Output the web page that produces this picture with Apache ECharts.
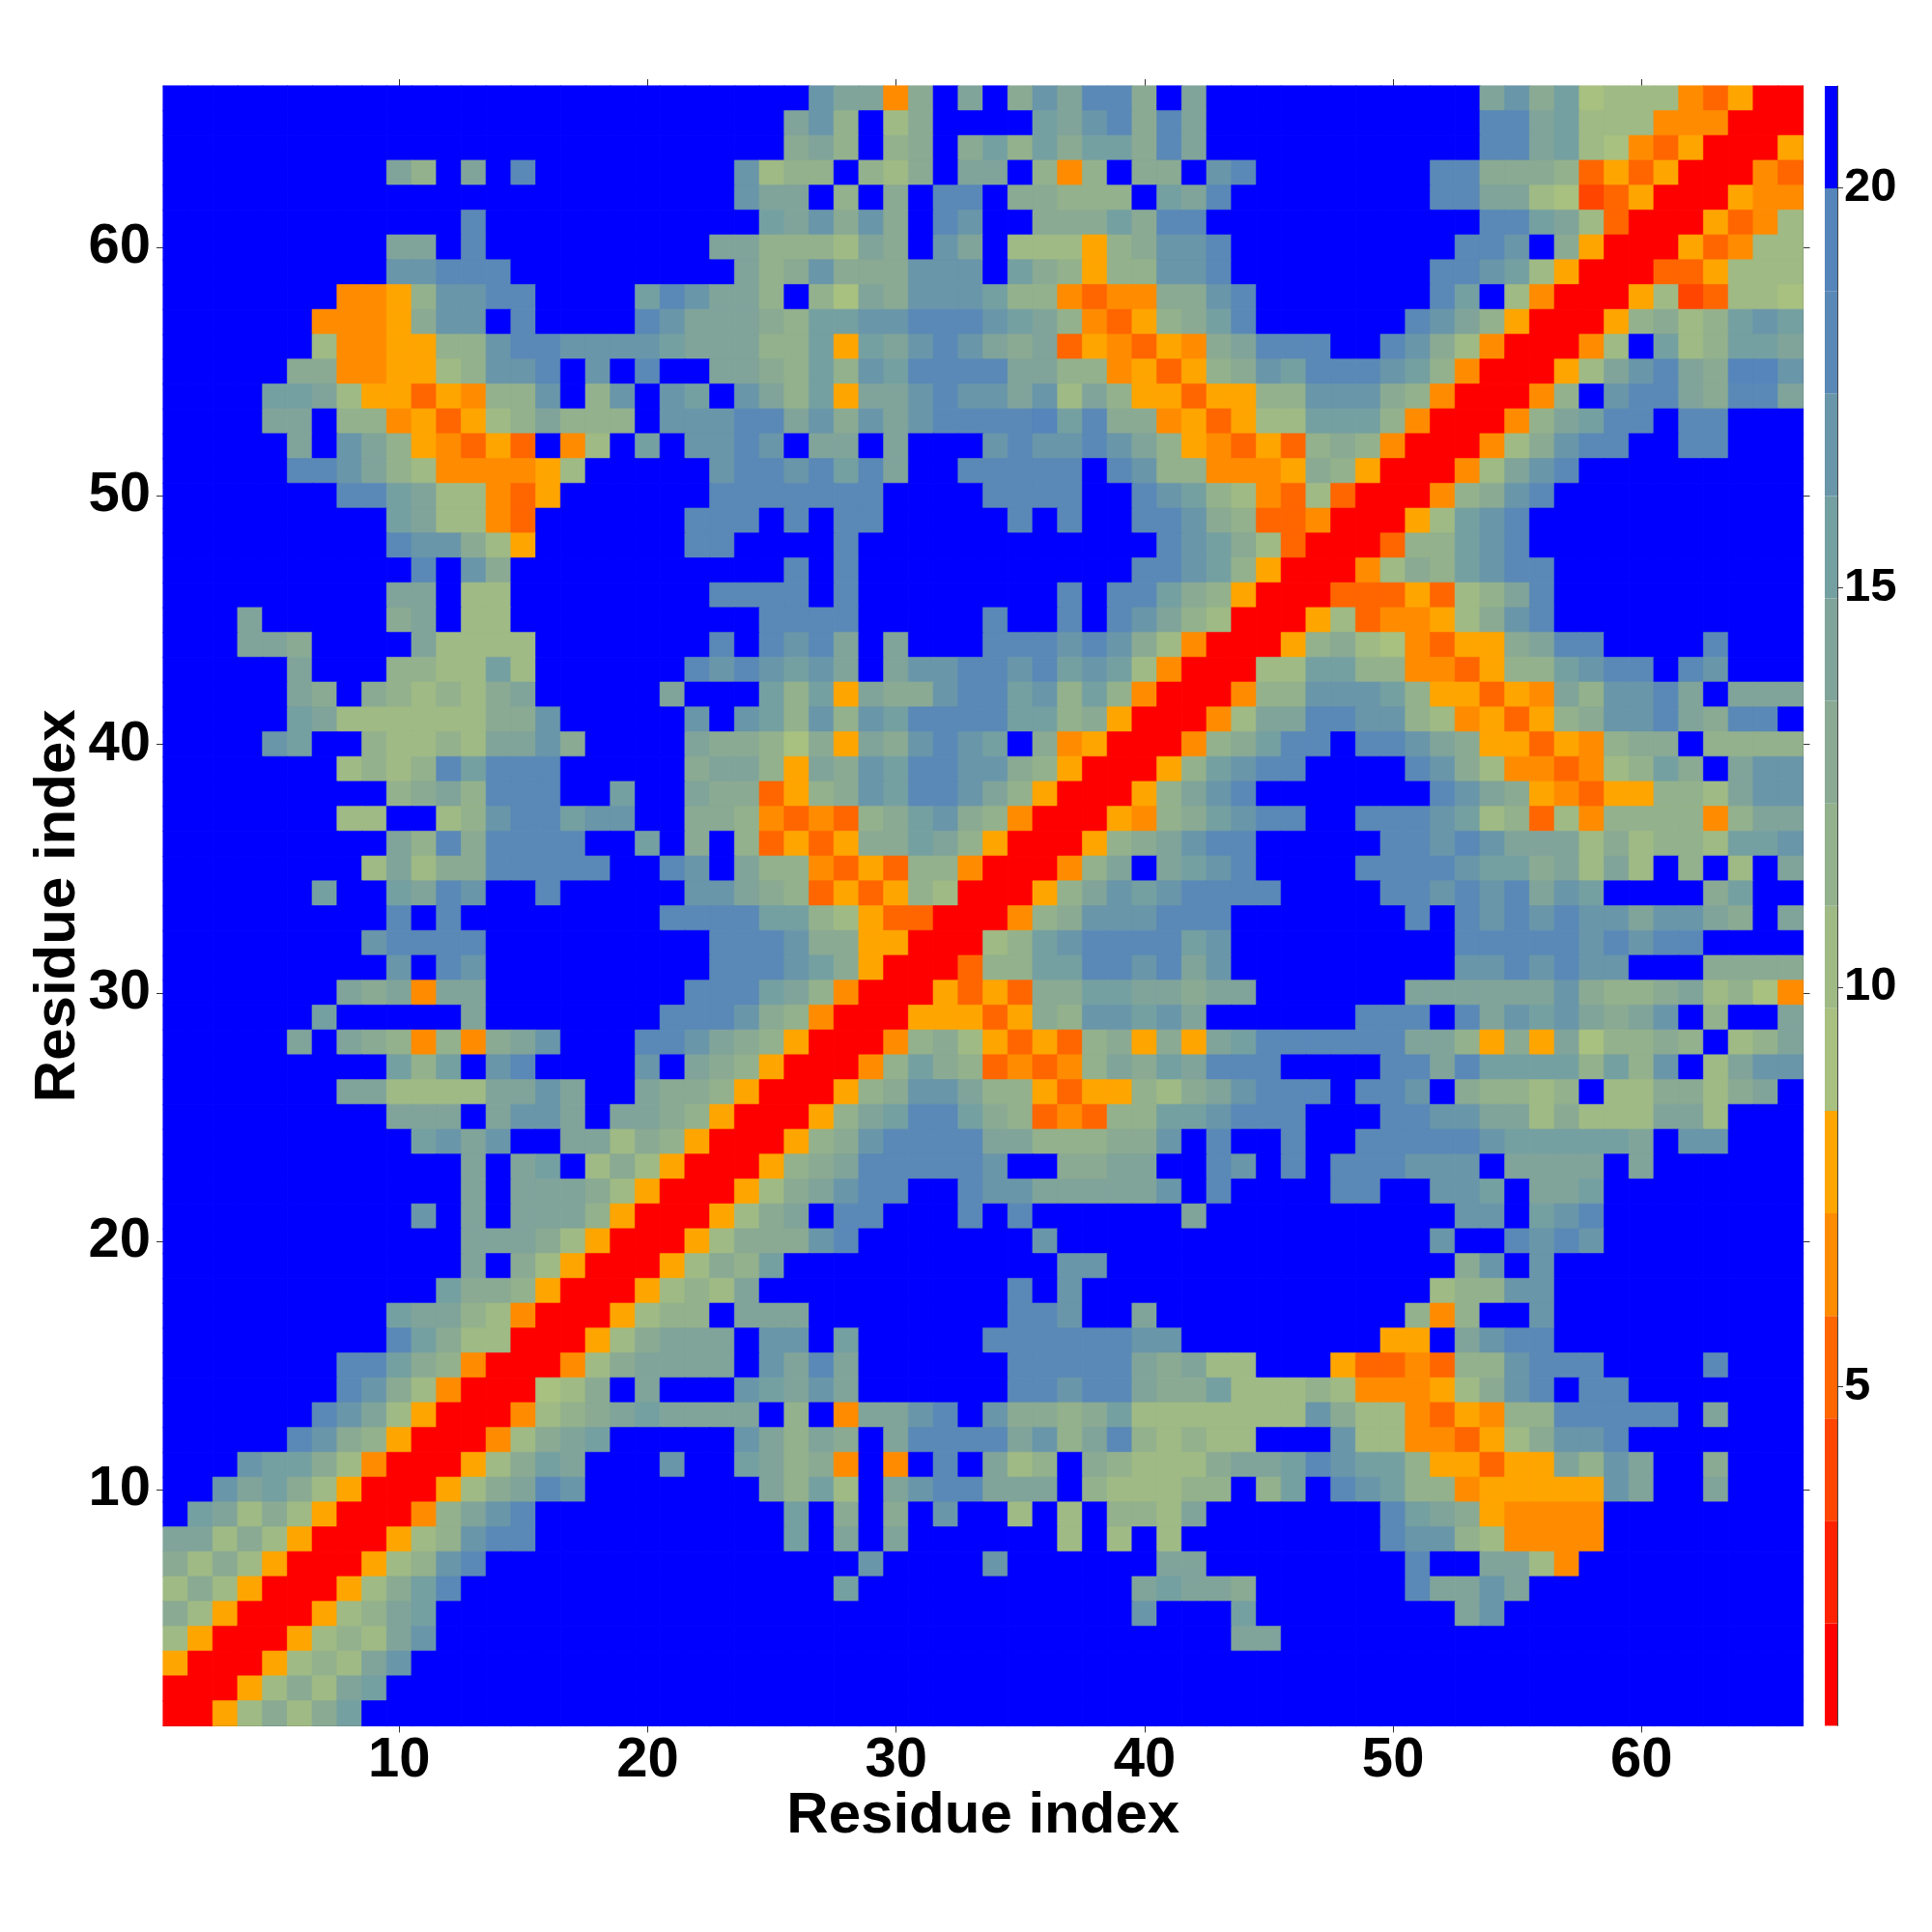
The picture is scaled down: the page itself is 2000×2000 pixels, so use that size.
<!DOCTYPE html>
<html>
<head>
<meta charset="utf-8">
<script src="https://cdn.jsdelivr.net/npm/echarts@6/dist/echarts.min.js"></script>
<style>html,body{margin:0;padding:0;background:#fff}#c{width:2000px;height:2000px}</style>
</head>
<body>
<div id="c"></div>
<script>
// Level codes per residue pair: 0-e = colour-bar band (bottom up), "." = top blue band (>20).
const rowsTop = [
"...................... ....caa49.a.9cadd9.a.. .........ac9b677743500",
"...................... ...ac8.79....bacd9da.. .........ddab777444000",
"...................... ...9a8.89.9b8b9bb9da.. .........ddab764350005",
".........a8.a.d....... .c788.879.aa.848.99.cd .......dd9998353500043",
"...................... .caa.8.9.dd.99888.bad. .......ddaa76235000544",
"............d......... ..bac9c9.dc..999b9dd.. .........ddba730005347",
".........aa.d......... aa8887a9.ca.777589ccd. ........ddc.9500053477",
".........ccddd........ .a89c999ccc.b98588ccd. .......ddcb75000335777",
".......4458ccdd....bdc aa8.86a9cccb88434499cd .......db.740005723776",
"......44459cc.d....dca aa98bbccdddcba843589bd ......dca8500058978bcb",
"......7445588cddccccba aa88b5bacdca9a3543549a ddd..dc97400047.b78bba",
".....99445578ccd.c.d.. aa98b8cbddddaa88453589 cbdddcb8400057acda9eec",
"....bba75535488c.8c.cb .ca8b5aacdccac7a855355 88ccc98400048.cdda9dda",
"....aa.88453578a888.cc cddac9cacddddebd994535 77bbb8400048abdd.dd...",
".....a.ca854353.47.b.c cdc.aa.a...cdccdca8543 538984000479cdd..dd...",
".....ddca87444457..... cddcdbda..ddddd.dc8844 4598500047acd.........",
".......ddba77435...... ddddddd....dddd..dcb87 4373000489cd..........",
".........ba7743......d dd.d.dd.....d.d..ddc98 33400057bcd...........",
".........dcc975......d d....d............dcb9 73000388bcd...........",
"..........d.c9........ ...d.d...........ddcb8 50004798bcdd..........",
".........aa.77........ dddd.d........d.ddb985 0003335378ad..........",
"...a.....9a.77........ ..dddd.....d..d.dca870 0057344579cd.........."
];
const rowsMiddle = [
"...aa9....a7777....... d.dcda.a...dddcdc97400 05897643559add....d...",
".....a...8877b7......d cdcbca.accddcdbcb74000 77bb88443588bcdd.dc...",
".....a9.987879a.....a. ..b8b5a99cddbc8b840004 88cccb855354a8ccda.aaa",
".....ba77777799c.....c .cb8c8cbddddbb89500047 aaddcc87453589ccda9dd.",
"....cb..87787aac9....a 998695a9cdcb.945000489 bdd.ddca955354899.8888",
".......7878dbddd.....9 aa85a9cbddcc98500058bc dd....dc97443478b9.acc",
".........89a8ddd..b..a 993589cbddca8500058acd .......dca954355887acc",
".......77..78cddbcc..9 98434389bc9840005489bc dd..dddcb78374888848aa",
".........a8d9dddd..b.9 .8353599ba85000589acdd .....ddcdcaaa797887bbc",
"........7a799ddddd..dc .a88435388400048a.abcd ....ddddcbb9a7a7.8.7.a",
"......b..badc..d.....c ca9835358700058acbcddd d....ddcdcdacb....9b..",
".........d.d........dd ddbb87533000489cccddd. ......d.dcdcdccacca9.a",
"........cdddd......... dddc995500078bcddddbc. ........dddddcdcdd....",
".........c.dc......... dddcb95000388bbddcdac. ........ccdcdcc...9999",
".......a9a4aa........d ddba84000535399bbaa9aa ......aaaaaac9889a7864",
"......b.....a.......dd dc9840005553598ccbca.. ....ddd.dacbca9ac.8..a",
".....a.a984849ac...ddc a9850004897535389595ab ddddddaa8595a68898.78a",
".........b8b.cd....c.a 98500048b9834348a9badd d....ddadbbbb8b8c.7acc",
".......aa7777aaca..a99 85000589cca885355879ac ddd.ddc.98878.779979a.",
".........aaa.acca.aa98 500058abddb9834388bbcd dd...ddccaa79777aa7...",
"..........bcac..aa7985 000589cddddaa88899c.d. .d..dddddcbbbbba.cc...",
"............a.ab.79750 00589adddddc..99aa..dc .d.dddccc.aaaa.a......"
];
const rowsBottom = [
"............a.aaa97500 0579acdd..dccaaaaac.d. ...dd..ccb.aab........",
"..........c.a.aaa85000 579a.dd...d.d......a.. ........cc.bcd........",
"............aaa9750005 7999cd.......c........ .......c..dcdc........",
"............a.97500057 98b...........cc...... ........9c.c..........",
"...........b9985000578 7a..........d.c....... .......788cc..........",
".........baa8740005788 .aaa........ddc..a.... ......848..c..........",
".........db977000579aa a.cc.b.....ddddddcc... .....55.acdd..........",
".......ddb984000479aaa a.cada......ddddda9a77 ...5334388cddd....d...",
".......dc974000679.a.. .cbaca......ddcdda99b7 7787444579cd.dd.......",
"......dca750004789abaa aa.8.4aacd.c9989b77777 77c977435488ddddd.a...",
".....dc985000479ab.... .ca8a9.addddac8ad87877 ...c77443579ccd.......",
"...cbb974000579ba...c. .ba894.4.d.a78.987779a abdcbb855355a8ca..9...",
"..cab975000579adc..... ..a8b7.acddaaa.877788. 8b.dcb88455555ca..a...",
".ba797500048acd....... ...b.9.9.c..7.7.887a.. .....dba954444........",
"aa7975000578cdd....... ...b.a.a......7.7.7... .....dcc874444........",
"97975000578cd......... ......c....c......aa.. ......d..aa74.........",
"7975000579bd.......... .....b...........abaa9 ......daaca...........",
"975000578ab........... .................c...b ........ac............",
"750005787ac........... .....................a a.....................",
"50005787ac............ ...................... ......................",
"0005797ab............. ...................... ......................",
"0057979b.............. ...................... ......................"
];
const residues = Array.from({length: 66}, (_, i) => String(i + 1));
const bandColors = ["#ff0000","#ff2200","#ff4500","#ff6600","#ff8c00","#ffa500",
  "#a8c080","#9fba85","#93b18c","#8aaa93","#80a49a","#75a0a2","#6a96aa","#5a89b7","#5585bb","#0000ff"];
const bandMin = 0.76, bandStep = 1.282;
const colorBarTicks = [5, 10, 15, 20];
const matrixTicks = [10, 20, 30, 40, 50, 60];
const fontFamily = '"Liberation Sans", Arial, sans-serif';

const codeToLevel = ch => ch === "." ? 15 : parseInt(ch, 16);
const allRows = rowsTop.concat(rowsMiddle, rowsBottom);
const cells = [];
allRows.forEach((row, r) => {
  const chars = row.replace(/ /g, "");
  for (let c = 0; c < 66; c++) {
    const lvl = codeToLevel(chars[c] || ".");
    const color = bandColors[lvl];
    cells.push({
      value: [c, 65 - r, bandMin + bandStep * (lvl + 0.5)],
      itemStyle: {color, borderColor: color, borderWidth: 0.6}
    });
  }
});
const isTick = i => matrixTicks.indexOf(i + 1) >= 0;
const tickStyle = {show: true, length: 7, alignWithLabel: true, interval: i => isTick(i), lineStyle: {color: "#333", width: 1}};
const lineStyle = {show: true, lineStyle: {color: "#444", width: 1}};
const bigLabel = {fontFamily, fontWeight: "bold", fontSize: 58, color: "#000"};
const nameStyle = {fontFamily, fontWeight: "bold", fontSize: 60, color: "#000", verticalAlign: "middle", align: "center"};

const barSeries = bandColors.map((color, i) => ({
  type: "bar", stack: "bar", xAxisIndex: 2, yAxisIndex: 2, barWidth: "100%", silent: true,
  itemStyle: {color},
  data: [i === 0 ? bandMin + bandStep : bandStep]
}));

const option = {
  backgroundColor: "#fff",
  animation: false,
  grid: [
    {left: 169, top: 89, width: 1697.5, height: 1697.5, containLabel: false},
    {left: 1889, top: 89, width: 13, height: 1697.5, containLabel: false}
  ],
  xAxis: [
    {type: "category", gridIndex: 0, data: residues, position: "bottom", name: "Residue index",
     nameLocation: "middle", nameGap: 94, nameMoveOverlap: false, nameTextStyle: nameStyle,
     axisLine: lineStyle, axisTick: tickStyle, splitLine: {show: false},
     axisLabel: Object.assign({interval: i => isTick(i), margin: 7, verticalAlign: "top"}, bigLabel)},
    {type: "category", gridIndex: 0, data: residues, position: "top",
     axisLine: lineStyle, axisTick: tickStyle, axisLabel: {show: false}, splitLine: {show: false}},
    {type: "category", gridIndex: 1, data: ["bar"], axisLine: {show: false}, axisTick: {show: false},
     axisLabel: {show: false}, splitLine: {show: false}}
  ],
  yAxis: [
    {type: "category", gridIndex: 0, data: residues, position: "left", name: "Residue index",
     nameLocation: "middle", nameGap: 109, nameRotate: 90, nameMoveOverlap: false, nameTextStyle: nameStyle,
     axisLine: lineStyle, axisTick: tickStyle, splitLine: {show: false},
     axisLabel: Object.assign({interval: i => isTick(i), margin: 13, padding: [10, 0, 0, 0]}, bigLabel)},
    {type: "category", gridIndex: 0, data: residues, position: "right",
     axisLine: lineStyle, axisTick: tickStyle, axisLabel: {show: false}, splitLine: {show: false}},
    {type: "value", gridIndex: 1, position: "right", min: bandMin, max: bandMin + 16 * bandStep,
     splitLine: {show: false}, axisLine: lineStyle,
     axisTick: {show: true, length: 6, customValues: colorBarTicks, lineStyle: {color: "#333", width: 1}},
     axisLabel: {customValues: colorBarTicks, margin: 7, padding: [10, 0, 0, 0], fontFamily, fontWeight: "bold", fontSize: 49, color: "#000"}}
  ],
  series: [{
    type: "heatmap", xAxisIndex: 0, yAxisIndex: 0, data: cells, progressive: 0, silent: true,
    emphasis: {disabled: true}
  }].concat(barSeries)
};
const chart = echarts.init(document.getElementById("c"), null, {renderer: "canvas", width: 2000, height: 2000});
chart.setOption(option);
</script>
</body>
</html>
